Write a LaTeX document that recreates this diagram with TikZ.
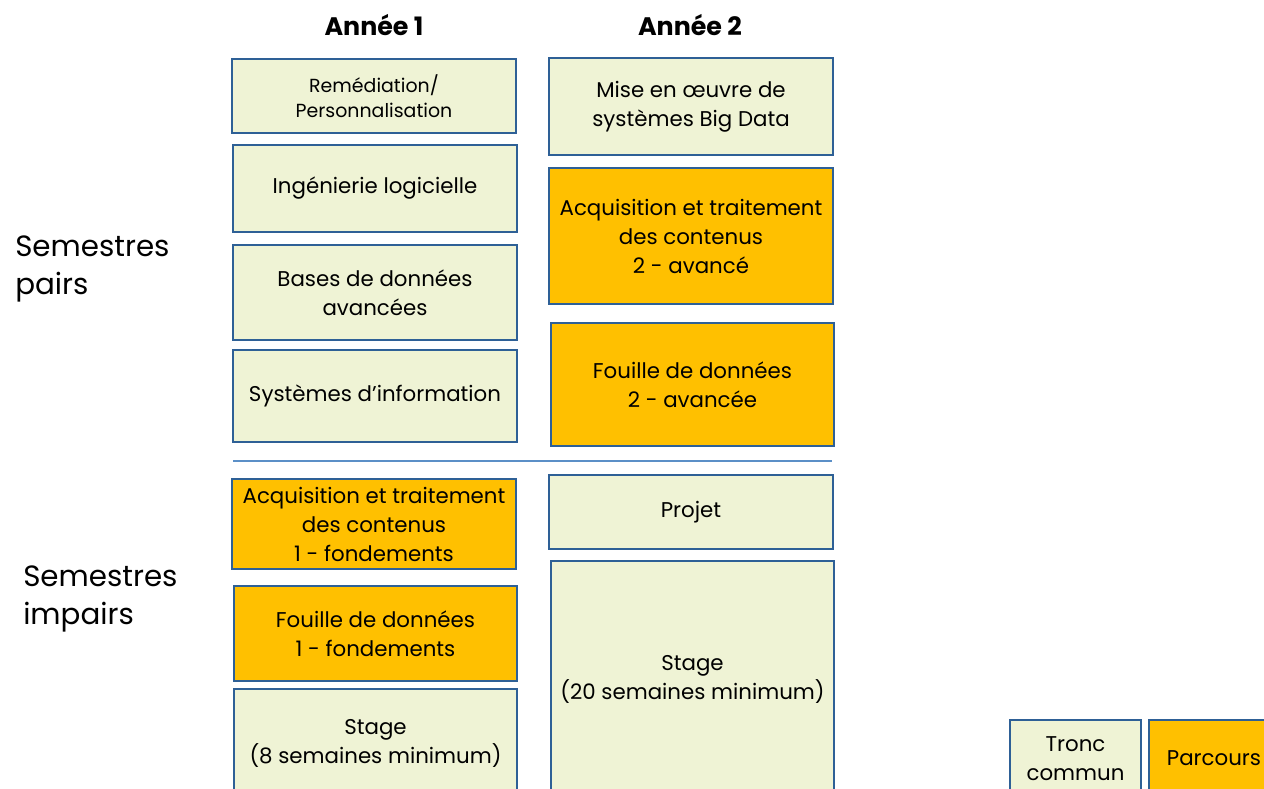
\documentclass[tikz,border=0pt]{standalone}
\usepackage{fontspec}
\setmainfont{Poppins}
\definecolor{pale}{HTML}{EFF3D5}
\definecolor{orng}{HTML}{FFC000}
\definecolor{edge}{HTML}{2E6096}
\definecolor{divline}{HTML}{5B8FC7}
\begin{document}
\begin{tikzpicture}[x=0.75pt,y=-0.75pt,
  box/.style={rectangle,draw=edge,line width=1.5pt,inner sep=0pt,align=center,
    font=\fontsize{16}{21.75}\selectfont,minimum width=213pt},
  core/.style={box,fill=pale},
  track/.style={box,fill=orng},
  header/.style={font=\fontsize{19}{22}\selectfont\bfseries},
  side/.style={anchor=north west,align=left,inner sep=0pt,font=\fontsize{22}{28.5}\selectfont}]
\useasboundingbox (0,0) rectangle (1264,789);
% headers
\node[header] (h1) at (374,25) {Année 1};
\node[header] (h2) at (690,25) {Année 2};
% side labels
\node[side] (sp) at (15,236) {Semestres\\pairs};
\node[side] (si) at (23,566) {Semestres\\impairs};
% column 1
\node[core,minimum height=55.5pt,font=\fontsize{14.2}{18.75}\selectfont] (rem) at (374,96) {Remédiation/\\Personnalisation};
\node[core,minimum height=65.25pt] (ing) at (375,188.5) {Ingénierie logicielle};
\node[core,minimum height=71.25pt] (bdd) at (375,292.5) {Bases de données\\avancées};
\node[core,minimum height=69pt] (si1) at (375,396) {Systèmes d'information};
\node[track,minimum height=67.5pt] (acq1) at (374,524) {Acquisition et traitement\\des contenus\\1 - fondements};
\node[track,minimum height=71.25pt,minimum width=212.25pt] (fou1) at (375.5,633.5) {Fouille de données\\1 - fondements};
\node[core,minimum height=81pt,minimum width=212.25pt] (st1) at (375.5,743) {Stage\\(8 semaines minimum)};
% column 2
\node[core,minimum height=72.75pt] (big) at (691,106.5) {Mise en œuvre de\\systèmes Big Data};
\node[track,minimum height=102pt] (acq2) at (691,236) {Acquisition et traitement\\des contenus\\2 - avancé};
\node[track,minimum height=92.25pt,minimum width=212.25pt] (fou2) at (692.5,384.5) {Fouille de données\\2 - avancée};
\node[core,minimum height=55.5pt] (proj) at (691,512) {Projet};
\node[core,minimum height=177pt,minimum width=212.25pt] (st2) at (692.5,679) {Stage\\(20 semaines minimum)};
% divider
\coordinate (dl) at (233,461);
\coordinate (dr) at (832,461);
\draw[divline,line width=1pt] (dl) -- (dr);
% legend
\node[core,minimum width=98.25pt,minimum height=57.75pt] (tc) at (1075.5,758.5) {Tronc\\commun};
\node[track,minimum width=97.5pt,minimum height=57.75pt] (pc) at (1214,758.5) {Parcours};
\end{tikzpicture}
\end{document}
